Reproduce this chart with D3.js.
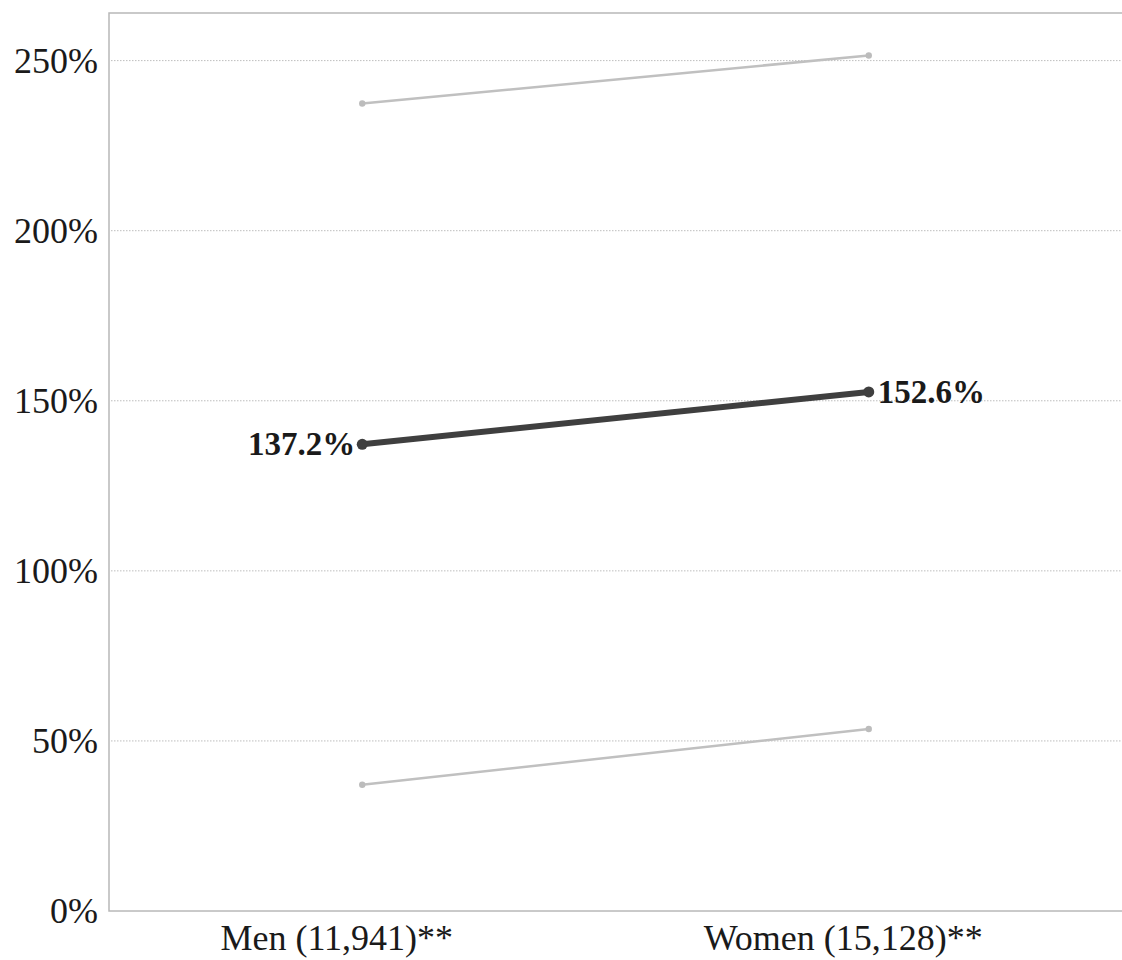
<!DOCTYPE html>
<html>
<head>
<meta charset="utf-8">
<script src="https://cdn.jsdelivr.net/npm/d3@7"></script>
<style>
  body { margin: 0; background: #fff; }
  text { font-family: "Liberation Serif", "Times New Roman", serif; fill: #1a1a1a; }
</style>
</head>
<body>
<div id="wrapper"></div>
<script>
// data
const groups = ["Men (11,941)**", "Women (15,128)**"];
const estimate = [137.2, 152.6];
const upperBound = [237.4, 251.5];
const lowerBound = [37.1, 53.5];
const yTicks = [0, 50, 100, 150, 200, 250];

const width = 1122, height = 960;
const margin = { top: 13, right: 0, bottom: 49, left: 109 };

const svg = d3.select("#wrapper").append("svg")
  .attr("width", width)
  .attr("height", height);

const x = d3.scalePoint()
  .domain(groups)
  .range([margin.left, width - margin.right])
  .padding(0.5);

const y = d3.scaleLinear()
  .domain([0, 264])
  .range([height - margin.bottom, margin.top]);

// frame
svg.append("rect")
  .attr("x", margin.left)
  .attr("y", margin.top)
  .attr("width", width - margin.left - margin.right + 2)
  .attr("height", y(0) - margin.top)
  .attr("fill", "none")
  .attr("stroke", "#b8b8b8")
  .attr("stroke-width", 1.5);

// gridlines
svg.append("g")
  .selectAll("line")
  .data(yTicks.filter(d => d > 0))
  .join("line")
  .attr("x1", margin.left + 2)
  .attr("x2", width)
  .attr("y1", d => y(d))
  .attr("y2", d => y(d))
  .attr("stroke", "#bdbdbd")
  .attr("stroke-width", 1)
  .attr("stroke-dasharray", "1.5,1.5");

// y axis labels
const yAxis = svg.append("g")
  .attr("transform", `translate(${margin.left - 11},0)`)
  .call(d3.axisLeft(y).tickValues(yTicks).tickFormat(d => d + "%").tickSize(0).tickPadding(0));
yAxis.select(".domain").remove();
yAxis.selectAll("text")
  .attr("font-size", 36)
  .attr("fill", "#1a1a1a")
  .style("font-family", "'Liberation Serif', serif");

// x axis labels
const xAxis = svg.append("g")
  .attr("transform", `translate(0,${y(0) + 13})`)
  .call(d3.axisBottom(x).tickSize(0).tickPadding(0));
xAxis.select(".domain").remove();
xAxis.selectAll("text")
  .attr("font-size", 36)
  .attr("dx", -26)
  .attr("fill", "#1a1a1a")
  .style("font-family", "'Liberation Serif', serif");

const line = d3.line()
  .x((d, i) => x(groups[i]))
  .y(d => y(d));

// bounds
[upperBound, lowerBound].forEach(series => {
  svg.append("path")
    .datum(series)
    .attr("d", line)
    .attr("fill", "none")
    .attr("stroke", "#c0c0c0")
    .attr("stroke-width", 2.5);
  svg.append("g")
    .selectAll("circle")
    .data(series)
    .join("circle")
    .attr("cx", (d, i) => x(groups[i]))
    .attr("cy", d => y(d))
    .attr("r", 3.2)
    .attr("fill", "#bcbcbc");
});

// main estimate
svg.append("path")
  .datum(estimate)
  .attr("d", line)
  .attr("fill", "none")
  .attr("stroke", "#3f3f3f")
  .attr("stroke-width", 6);

svg.append("g")
  .selectAll("circle")
  .data(estimate)
  .join("circle")
  .attr("cx", (d, i) => x(groups[i]))
  .attr("cy", d => y(d))
  .attr("r", 5.5)
  .attr("fill", "#3f3f3f");

svg.append("g")
  .selectAll("text")
  .data(estimate)
  .join("text")
  .attr("x", (d, i) => x(groups[i]) + (i === 0 ? -7 : 9))
  .attr("y", d => y(d))
  .attr("dy", "0.33em")
  .attr("text-anchor", (d, i) => i === 0 ? "end" : "start")
  .attr("font-size", 33)
  .attr("font-weight", "bold")
  .text(d => d.toFixed(1) + "%");
</script>
</body>
</html>
